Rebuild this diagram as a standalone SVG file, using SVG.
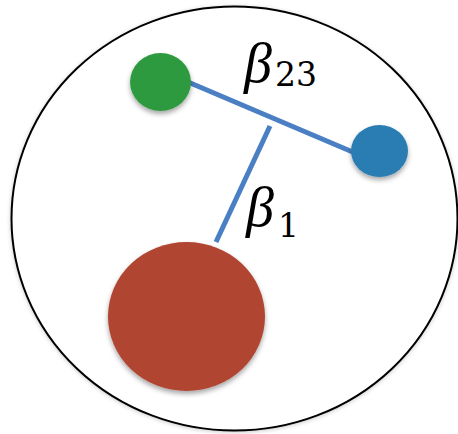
<svg xmlns="http://www.w3.org/2000/svg" width="458" height="434" viewBox="0 0 458 434">
<defs>
<filter id="sh" x="-20%" y="-20%" width="140%" height="150%">
<feDropShadow dx="0" dy="3" stdDeviation="2.5" flood-color="#000" flood-opacity="0.35"/>
</filter>
<filter id="sh2" x="-10%" y="-10%" width="120%" height="120%">
<feDropShadow dx="0" dy="1" stdDeviation="2" flood-color="#000" flood-opacity="0.2"/>
</filter>
</defs>
<style>
.lbl{font-family:"Liberation Serif","DejaVu Serif",serif;font-style:italic;fill:#000}
.sub{font-family:"DejaVu Serif","Liberation Serif",serif;font-style:normal;fill:#000}
.edge{stroke:#4a80c3;stroke-width:5;fill:none}
</style>
<rect width="458" height="434" fill="#fff"/>
<g id="boundary">
<ellipse cx="234.5" cy="218.5" rx="223" ry="212" fill="#fff" stroke="#000" stroke-width="2" filter="url(#sh2)"/>
</g>
<g id="connectors">
<line class="edge" x1="188" y1="82" x2="355" y2="153"/>
<line class="edge" x1="270" y1="126" x2="216" y2="242"/>
</g>
<g id="node-green">
<ellipse cx="160.5" cy="82" rx="30.5" ry="29" fill="#2f9a40" filter="url(#sh)"/>
</g>
<g id="node-blue">
<ellipse cx="379.5" cy="151" rx="28.5" ry="26" fill="#2b7db3" filter="url(#sh)"/>
</g>
<g id="node-red">
<ellipse cx="186.5" cy="316.5" rx="78.5" ry="74.5" fill="#b04433" filter="url(#sh)"/>
</g>
<g id="label-b23">
<text class="lbl" x="244" y="82" font-size="56">β<tspan class="sub" x="275" y="86" font-size="33">23</tspan></text>
</g>
<g id="label-b1">
<text class="lbl" x="246" y="226" font-size="56">β<tspan class="sub" x="278" y="237" font-size="33">1</tspan></text>
</g>
</svg>
